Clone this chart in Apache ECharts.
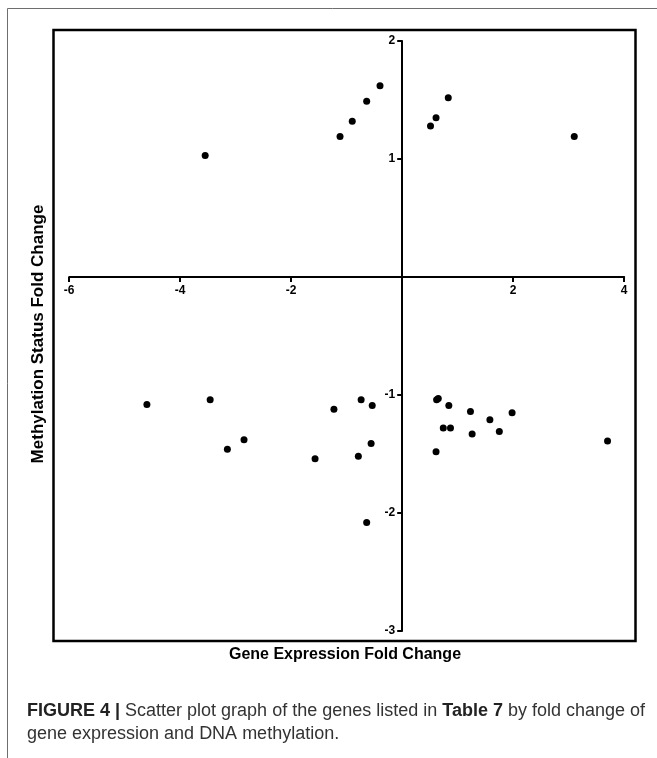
<!DOCTYPE html>
<html>
<head>
<meta charset="utf-8">
<script src="https://cdn.jsdelivr.net/npm/echarts@6/dist/echarts.min.js"></script>
<style>
  html, body { margin: 0; padding: 0; background: #fff; }
  #chart { width: 657px; height: 758px; }
</style>
</head>
<body>
<div id="chart"></div>
<script>
// Gene expression fold change (x) and methylation status fold change (y)
const geneExpression = [
  -3.55, -1.12, -0.90, -0.64, -0.40, 0.51, 0.61, 0.83, 3.10,
  -4.60, -3.46, -3.15, -2.85, -1.57, -1.23, -0.79, -0.74, -0.54, -0.56, -0.64,
  0.62, 0.65, 0.84, 0.74, 0.87, 0.61, 1.23, 1.26, 1.58, 1.75, 1.98, 3.70
];
const methylation = [
  1.03, 1.19, 1.32, 1.49, 1.62, 1.28, 1.35, 1.52, 1.19,
  -1.08, -1.04, -1.46, -1.38, -1.54, -1.12, -1.52, -1.04, -1.09, -1.41, -2.08,
  -1.04, -1.03, -1.09, -1.28, -1.28, -1.48, -1.14, -1.33, -1.21, -1.31, -1.15, -1.39
];
const xTicks = { min: -6, max: 4, interval: 2 };
const yTicks = { min: -3, max: 2, interval: 1 };
const xTitle = 'Gene Expression Fold Change';
const yTitle = 'Methylation Status Fold Change';

const points = geneExpression.map((x, i) => [x, methylation[i]]);
const FONT = '"Liberation Sans", Arial, Helvetica, sans-serif';

const chart = echarts.init(document.getElementById('chart'), null, { renderer: 'canvas' });
const axisCommon = {
  type: 'value',
  splitLine: { show: false },
  axisLine: { show: true, onZero: false, lineStyle: { color: '#000', width: 2 } },
  axisTick: { show: true, length: 5, lineStyle: { color: '#000', width: 2 } },
  axisLabel: {
    color: '#000', fontFamily: FONT, fontWeight: 'bold', fontSize: 12,
    formatter: v => (v === 0 ? '' : String(v))
  }
};
chart.setOption({
  animation: false,
  backgroundColor: '#fff',
  grid: { left: 69.2, right: 32.8, top: 41, bottom: 127, containLabel: false },
  xAxis: Object.assign({}, axisCommon, {
    min: xTicks.min, max: xTicks.max, interval: xTicks.interval,
    axisLabel: Object.assign({}, axisCommon.axisLabel, { margin: 8 })
  }),
  yAxis: Object.assign({}, axisCommon, {
    min: yTicks.min, max: yTicks.max, interval: yTicks.interval,
    axisLabel: Object.assign({}, axisCommon.axisLabel, { margin: 7 })
  }),
  series: [{
    type: 'scatter',
    data: points,
    symbol: 'circle',
    symbolSize: 7,
    itemStyle: { color: '#000', opacity: 1 }
  }],
  graphic: [
    { type: 'line', shape: { x1: 7.5, y1: 8.5, x2: 657, y2: 8.5 }, style: { stroke: '#6e6e6e', lineWidth: 1 } },
    { type: 'line', shape: { x1: 7.5, y1: 8.5, x2: 7.5, y2: 758 }, style: { stroke: '#6e6e6e', lineWidth: 1 } },
    { type: 'rect', shape: { x: 53.5, y: 30, width: 582, height: 611 }, style: { fill: 'none', stroke: '#000', lineWidth: 2.5 }, z: 10 },
    { type: 'text', x: 345, y: 655, style: { text: xTitle, font: 'bold 16px ' + FONT, fill: '#000', textAlign: 'center', textVerticalAlign: 'middle' } },
    { type: 'text', x: 38, y: 334, rotation: Math.PI / 2, style: { text: yTitle, font: 'bold 17px ' + FONT, fill: '#000', textAlign: 'center', textVerticalAlign: 'middle' } },
    { type: 'text', x: 27, y: 711, style: {
      text: '{b|FIGURE 4 |} Scatter plot graph of the genes listed in {b|Table 7} by fold change of',
      font: '18px ' + FONT, fill: '#333', textVerticalAlign: 'middle',
      rich: { b: { fontWeight: 'bold', fontSize: 18, fontFamily: FONT, fill: '#222' } }
    } },
    { type: 'text', x: 27, y: 734, style: {
      text: 'gene expression and DNA methylation.',
      font: '18px ' + FONT, fill: '#333', textVerticalAlign: 'middle'
    } }
  ]
});

// Place the axes so they cross at the origin (computed through the library's scales)
const origin = chart.convertToPixel({ gridIndex: 0 }, [0, 0]);
const corner = chart.convertToPixel({ gridIndex: 0 }, [xTicks.min, yTicks.min]);
chart.setOption({
  xAxis: { offset: -(corner[1] - origin[1]) },
  yAxis: { offset: -(origin[0] - corner[0]) }
});
</script>
</body>
</html>
